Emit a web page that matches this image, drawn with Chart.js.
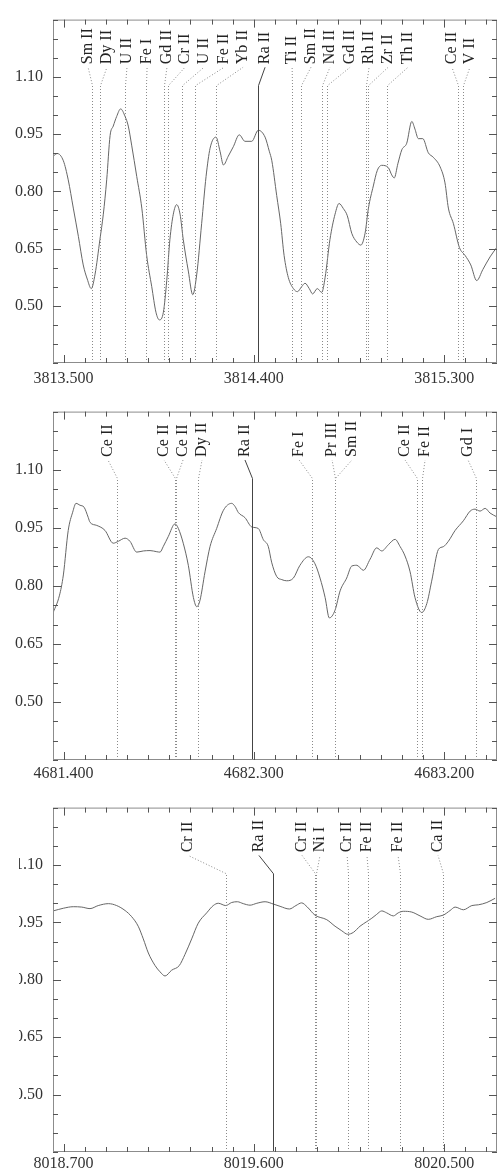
<!DOCTYPE html>
<html lang="en">
<head>
<meta charset="UTF-8">
<title>Ra II line windows</title>
<script src="https://cdn.jsdelivr.net/npm/chart.js@4"></script>
<style>
    body {
        margin: 0;
        background: #fff;
        width: 501px;
        height: 1173px;
        overflow: hidden;
        position: relative;
    }
    .panel {
        position: absolute;
        left: 0;
        width: 501px;
        overflow: hidden;
    }
    .panel canvas { display: block; }
    /* the bottom window is cropped a little on the left in the original */
    #wrap3 { left: 19px; width: 482px; }
    #wrap3 canvas { margin-left: -19px; }
</style>
</head>
<body>
<div class="panel" id="wrap1" style="top:0; height:392px"><canvas id="panel1" width="501" height="392"></canvas></div>
<div class="panel" id="wrap2" style="top:392px; height:396px"><canvas id="panel2" width="501" height="396"></canvas></div>
<div class="panel" id="wrap3" style="top:788px; height:385px"><canvas id="panel3" width="501" height="385"></canvas></div>

<script>
// ---- data ----
const yTickLabels = [0.50, 0.65, 0.80, 0.95, 1.10];

// window 1: around Ra II 3814.42
const wave1 = [3813.451, 3813.470, 3813.499, 3813.522, 3813.546, 3813.570, 3813.593, 3813.612, 3813.631, 3813.649,
    3813.672, 3813.688, 3813.704, 3813.720, 3813.735, 3813.751, 3813.770, 3813.791, 3813.806, 3813.822,
    3813.846, 3813.870, 3813.893, 3813.917, 3813.937, 3813.953, 3813.972, 3813.988, 3814.003, 3814.019,
    3814.035, 3814.051, 3814.066, 3814.090, 3814.111, 3814.130, 3814.153, 3814.174, 3814.193, 3814.221,
    3814.240, 3814.256, 3814.279, 3814.303, 3814.331, 3814.358, 3814.390, 3814.421, 3814.453, 3814.473,
    3814.485, 3814.508, 3814.527, 3814.543, 3814.563, 3814.587, 3814.606, 3814.626, 3814.642, 3814.662,
    3814.678, 3814.700, 3814.721, 3814.737, 3814.760, 3814.784, 3814.803, 3814.823, 3814.842, 3814.863,
    3814.887, 3814.906, 3814.926, 3814.942, 3814.965, 3814.984, 3815.005, 3815.036, 3815.052, 3815.064,
    3815.081, 3815.100, 3815.123, 3815.147, 3815.162, 3815.178, 3815.199, 3815.225, 3815.249, 3815.281,
    3815.304, 3815.320, 3815.344, 3815.372, 3815.399, 3815.426, 3815.454, 3815.483, 3815.517, 3815.549];
const flux1 = [0.892, 0.899, 0.880, 0.830, 0.756, 0.682, 0.607, 0.570, 0.545, 0.583,
    0.674, 0.740, 0.830, 0.946, 0.971, 0.996, 1.016, 0.996, 0.971, 0.921,
    0.839, 0.756, 0.632, 0.550, 0.483, 0.463, 0.483, 0.566, 0.674, 0.740,
    0.765, 0.740, 0.674, 0.591, 0.529, 0.583, 0.715, 0.839, 0.913, 0.942,
    0.905, 0.869, 0.892, 0.917, 0.948, 0.931, 0.931, 0.960, 0.942, 0.905,
    0.880, 0.789, 0.715, 0.632, 0.574, 0.545, 0.537, 0.550, 0.559, 0.545,
    0.531, 0.545, 0.535, 0.574, 0.674, 0.740, 0.768, 0.755, 0.736, 0.690,
    0.667, 0.659, 0.690, 0.756, 0.814, 0.855, 0.868, 0.862, 0.843, 0.835,
    0.872, 0.909, 0.926, 0.983, 0.963, 0.938, 0.938, 0.901, 0.889, 0.864,
    0.822, 0.756, 0.715, 0.653, 0.632, 0.607, 0.566, 0.595, 0.628, 0.653];
const xTicks1 = [3813.5, 3814.4, 3815.3];
const names1 = ['Sm II', 'Dy II', 'U II', 'Fe I', 'Gd II', 'Cr II', 'U II', 'Fe II', 'Yb II', 'Ra II',
    'Ti II', 'Sm II', 'Nd II', 'Gd II', 'Rh II', 'Zr II', 'Th II', 'Ce II', 'V II'];
const lines1 = [3813.633, 3813.672, 3813.791, 3813.890, 3813.975, 3813.994, 3814.060, 3814.122, 3814.221, 3814.420,
    3814.581, 3814.623, 3814.722, 3814.746, 3814.931, 3814.940, 3815.030, 3815.366, 3815.389];
const tags1 = [3813.616, 3813.705, 3813.800, 3813.895, 3813.989, 3814.074, 3814.164, 3814.259, 3814.349, 3814.453,
    3814.581, 3814.670, 3814.760, 3814.855, 3814.945, 3815.035, 3815.129, 3815.337, 3815.422];

// window 2: around Ra II 4682.28
const wave2 = [4681.351, 4681.380, 4681.399, 4681.422, 4681.443, 4681.459, 4681.478, 4681.497, 4681.517, 4681.525,
    4681.557, 4681.596, 4681.635, 4681.659, 4681.691, 4681.714, 4681.746, 4681.777, 4681.809, 4681.841,
    4681.856, 4681.872, 4681.895, 4681.927, 4681.943, 4681.966, 4681.990, 4682.014, 4682.030, 4682.045,
    4682.069, 4682.093, 4682.124, 4682.156, 4682.195, 4682.211, 4682.227, 4682.258, 4682.290, 4682.321,
    4682.345, 4682.368, 4682.384, 4682.408, 4682.432, 4682.455, 4682.487, 4682.518, 4682.558, 4682.589,
    4682.613, 4682.637, 4682.657, 4682.684, 4682.708, 4682.739, 4682.763, 4682.787, 4682.818, 4682.850,
    4682.881, 4682.905, 4682.936, 4682.968, 4682.991, 4683.015, 4683.039, 4683.062, 4683.094, 4683.118,
    4683.141, 4683.173, 4683.196, 4683.220, 4683.252, 4683.291, 4683.323, 4683.346, 4683.370, 4683.394,
    4683.417, 4683.450];
const flux2 = [0.731, 0.774, 0.828, 0.943, 0.990, 1.013, 1.008, 1.003, 0.976, 0.964,
    0.956, 0.943, 0.910, 0.915, 0.923, 0.915, 0.887, 0.890, 0.891, 0.888,
    0.887, 0.902, 0.927, 0.960, 0.948, 0.910, 0.853, 0.770, 0.746, 0.762,
    0.836, 0.902, 0.948, 0.995, 1.013, 1.005, 0.989, 0.976, 0.952, 0.948,
    0.919, 0.902, 0.861, 0.824, 0.816, 0.813, 0.820, 0.853, 0.875, 0.857,
    0.820, 0.770, 0.717, 0.737, 0.787, 0.820, 0.851, 0.853, 0.840, 0.869,
    0.898, 0.890, 0.906, 0.920, 0.902, 0.877, 0.836, 0.770, 0.731, 0.754,
    0.812, 0.894, 0.901, 0.915, 0.943, 0.968, 0.993, 0.998, 0.993, 1.000,
    0.988, 0.978];
const xTicks2 = [4681.4, 4682.3, 4683.2];
const names2 = ['Ce II', 'Ce II', 'Ce II', 'Dy II', 'Ra II', 'Fe I', 'Pr III', 'Sm II', 'Ce II', 'Fe II', 'Gd I'];
const lines2 = [4681.653, 4681.927, 4681.932, 4682.036, 4682.291, 4682.575, 4682.684, 4682.686, 4683.072, 4683.095, 4683.351];
const tags2 = [4681.610, 4681.875, 4681.965, 4682.055, 4682.258, 4682.514, 4682.670, 4682.764, 4683.015, 4683.110, 4683.313];

// window 3: around Ra II 8019.70
const wave3 = [8018.651, 8018.699, 8018.746, 8018.786, 8018.825, 8018.864, 8018.912, 8018.951, 8018.991, 8019.022,
    8019.053, 8019.077, 8019.101, 8019.133, 8019.156, 8019.180, 8019.211, 8019.247, 8019.274, 8019.306,
    8019.337, 8019.377, 8019.408, 8019.432, 8019.467, 8019.495, 8019.522, 8019.550, 8019.582, 8019.614,
    8019.653, 8019.692, 8019.724, 8019.768, 8019.799, 8019.826, 8019.853, 8019.889, 8019.945, 8019.984,
    8020.016, 8020.044, 8020.071, 8020.102, 8020.134, 8020.158, 8020.181, 8020.205, 8020.228, 8020.260,
    8020.283, 8020.307, 8020.347, 8020.386, 8020.425, 8020.465, 8020.496, 8020.528, 8020.552, 8020.591,
    8020.631, 8020.662, 8020.702, 8020.741];
const flux3 = [0.980, 0.987, 0.991, 0.990, 0.986, 0.994, 0.999, 0.994, 0.981, 0.965,
    0.940, 0.907, 0.870, 0.837, 0.821, 0.810, 0.825, 0.837, 0.866, 0.907,
    0.948, 0.975, 0.994, 1.000, 0.994, 1.002, 1.004, 0.999, 0.995, 1.000,
    1.004, 0.998, 0.992, 0.985, 0.994, 1.001, 0.990, 0.969, 0.957, 0.940,
    0.928, 0.919, 0.924, 0.940, 0.952, 0.961, 0.971, 0.980, 0.975, 0.967,
    0.975, 0.979, 0.977, 0.967, 0.958, 0.965, 0.969, 0.981, 0.990, 0.983,
    0.994, 0.996, 1.002, 1.013];
const xTicks3 = [8018.7, 8019.6, 8020.5];
const names3 = ['Cr II', 'Ra II', 'Cr II', 'Ni I', 'Cr II', 'Fe II', 'Fe II', 'Ca II'];
const lines3 = [8019.468, 8019.691, 8019.889, 8019.894, 8020.045, 8020.140, 8020.291, 8020.495];
const tags3 = [8019.289, 8019.624, 8019.828, 8019.913, 8020.041, 8020.135, 8020.282, 8020.471];

// where the identification marks sit (flux units)
const LINE_TOP = 1.077;
const LINE_JOIN = 1.125;
const TEXT_START = 1.133;

Chart.defaults.font.family = '"Liberation Serif", "Times New Roman", serif';
Chart.defaults.font.size = 16;
Chart.defaults.color = '#333';

// box around the plot with inward ticks on all four sides
const framePlugin = {
    id: 'frame',
    afterDraw(chart, args, opts) {
        const { ctx, chartArea: a, scales: { x, y } } = chart;
        ctx.save();
        ctx.strokeStyle = '#8c8c8c';
        ctx.lineWidth = 1;
        ctx.strokeRect(a.left + 0.5, a.top + 0.5, a.width - 1, a.height - 1);
        ctx.strokeStyle = '#555';
        ctx.beginPath();
        for (let k = Math.ceil(x.min * 10 - 1e-6); k / 10 <= x.max + 1e-9; k++) {
            const v = k / 10;
            const px = Math.round(x.getPixelForValue(v)) + 0.5;
            const len = opts.xMajor.some(m => Math.abs(m - v) < 1e-6) ? 8 : 5;
            ctx.moveTo(px, a.bottom); ctx.lineTo(px, a.bottom - len);
            ctx.moveTo(px, a.top); ctx.lineTo(px, a.top + len);
        }
        for (let k = Math.ceil(y.min * 20 - 1e-6); k / 20 <= y.max + 1e-9; k++) {
            const v = k / 20;
            const py = Math.round(y.getPixelForValue(v)) + 0.5;
            const len = yTickLabels.some(m => Math.abs(m - v) < 1e-6) ? 8 : 5;
            ctx.moveTo(a.left, py); ctx.lineTo(a.left + len, py);
            ctx.moveTo(a.right, py); ctx.lineTo(a.right - len, py);
        }
        ctx.stroke();
        ctx.restore();
    }
};

// line identifications: vertical mark, slanted leader, rotated species label
const lineIdPlugin = {
    id: 'lineIds',
    afterDatasetsDraw(chart, args, opts) {
        const { ctx, chartArea: a, scales: { x, y } } = chart;
        const yTop = y.getPixelForValue(LINE_TOP);
        const yJoin = y.getPixelForValue(LINE_JOIN);
        const yText = y.getPixelForValue(TEXT_START);
        ctx.save();
        ctx.beginPath();
        ctx.rect(a.left, a.top, a.width, a.height);
        ctx.clip();
        opts.names.forEach((name, i) => {
            const lx = Math.round(x.getPixelForValue(opts.lines[i])) + 0.5;
            const tx = x.getPixelForValue(opts.tags[i]);
            const ra = name === 'Ra II';
            ctx.strokeStyle = ra ? '#444' : '#8a8a8a';
            ctx.lineWidth = 1;
            ctx.setLineDash(ra ? [] : [1, 2]);
            ctx.beginPath();
            ctx.moveTo(lx, a.bottom);
            ctx.lineTo(lx, yTop);
            ctx.lineTo(tx, yJoin);
            ctx.stroke();
            ctx.setLineDash([]);

            ctx.save();
            ctx.translate(tx, yText);
            ctx.rotate(-Math.PI / 2);
            ctx.font = '16px "Liberation Serif", serif';
            ctx.fillStyle = '#222';
            ctx.textAlign = 'left';
            ctx.textBaseline = 'middle';
            ctx.fillText(name, 0, 0);
            ctx.restore();
        });
        ctx.restore();
    }
};

function makePanel(id, wave, flux, xMin, xMax, xTicks, names, lines, tags, padTop, axisH, labelPad) {
    const ctx = document.getElementById(id).getContext('2d');
    return new Chart(ctx, {
        type: 'line',
        data: {
            datasets: [{
                data: wave.map((w, i) => ({ x: w, y: flux[i] })),
                borderColor: '#666',
                borderWidth: 1,
                pointRadius: 0,
                cubicInterpolationMode: 'monotone'
            }]
        },
        options: {
            responsive: false,
            animation: false,
            layout: { padding: { top: padTop, right: 4, bottom: 0, left: 0 } },
            plugins: {
                legend: { display: false },
                tooltip: { enabled: false },
                frame: { xMajor: xTicks },
                lineIds: { names: names, lines: lines, tags: tags }
            },
            scales: {
                x: {
                    type: 'linear',
                    min: xMin,
                    max: xMax,
                    grid: { display: false, drawTicks: false },
                    border: { display: false },
                    afterBuildTicks: s => { s.ticks = xTicks.map(v => ({ value: v })); },
                    afterFit: s => { s.height = axisH; },
                    ticks: {
                        padding: labelPad,
                        maxRotation: 0,
                        autoSkip: false,
                        callback: v => v.toFixed(3)
                    }
                },
                y: {
                    min: 0.35,
                    max: 1.25,
                    grid: { display: false, drawTicks: false },
                    border: { display: false },
                    afterBuildTicks: s => { s.ticks = yTickLabels.map(v => ({ value: v })); },
                    afterFit: s => { s.width = 53; },
                    ticks: {
                        padding: 10,
                        callback: v => v.toFixed(2)
                    }
                }
            }
        },
        plugins: [framePlugin, lineIdPlugin]
    });
}

makePanel('panel1', wave1, flux1, 3813.45, 3815.55, xTicks1, names1, lines1, tags1, 2, 29, 6);
makePanel('panel2', wave2, flux2, 4681.35, 4683.45, xTicks2, names2, lines2, tags2, 3, 28, 4);
makePanel('panel3', wave3, flux3, 8018.65, 8020.75, xTicks3, names3, lines3, tags3, 2, 21, 2);
</script>
</body>
</html>
